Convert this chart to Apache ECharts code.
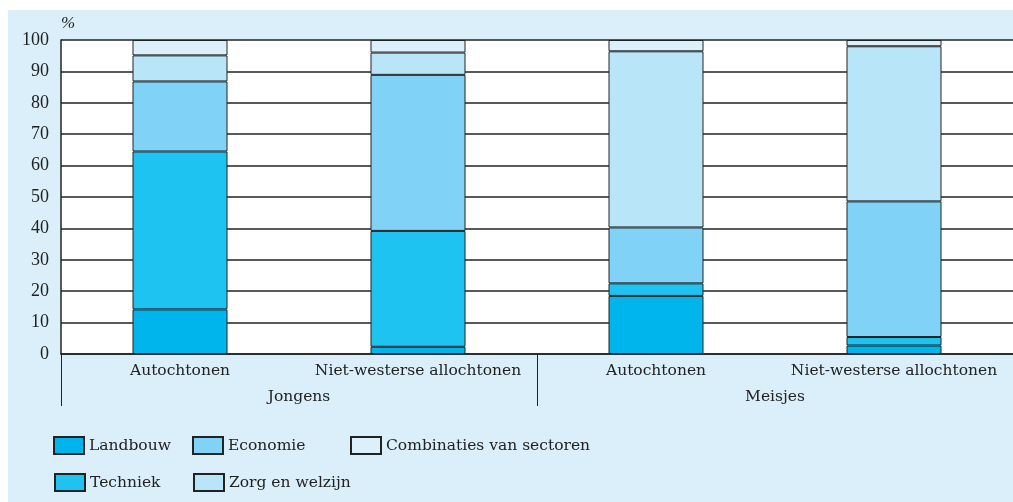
<!DOCTYPE html>
<html>
<head>
<meta charset="utf-8">
<script src="https://cdn.jsdelivr.net/npm/echarts@6/dist/echarts.min.js"></script>
<style>
  html, body { margin: 0; padding: 0; background: #fff; }
  #panel { position: absolute; left: 8px; top: 10px; width: 1005px; height: 492px; background: #daeff9; }
  #main { position: absolute; left: 0; top: 0; width: 1013px; height: 502px; }
</style>
</head>
<body>
<div id="panel"></div>
<div id="main"></div>
<script>
var categories = ['Autochtonen', 'Niet-westerse allochtonen', 'Autochtonen', 'Niet-westerse allochtonen'];
var groups = ['Jongens', 'Meisjes'];
var landbouw = [14.2, 2.3, 18.5, 2.7];
var techniek = [50.3, 36.9, 4.0, 2.7];
var economie = [22.3, 49.7, 17.8, 43.2];
var zorg = [8.3, 7.1, 56.1, 49.4];
var combinaties = [4.9, 4.0, 3.6, 2.0];

var font = 'Liberation Serif';
var textFont = 'DejaVu Serif';
var ink = '#222';

function bar(name, data, color) {
	return {
		name: name,
		type: 'bar',
		stack: 'total',
		barWidth: 95,
		data: data,
		itemStyle: { color: color, borderColor: ink, borderWidth: 1 }
	};
}

// one legend per entry so each box sits where the original puts it
function legendItem(name, left, top) {
	return {
		left: left, top: top, padding: 0,
		itemWidth: 30, itemHeight: 17, itemGap: 0,
		icon: 'rect',
		textStyle: { fontFamily: textFont, fontSize: 15.5, color: ink, padding: [5, 0, 0, 0] },
		data: [name]
	};
}

var myChart = echarts.init(document.getElementById('main'));
var option = {
	animation: false,
	textStyle: { fontFamily: font, color: ink },
	grid: {
		left: 61, right: 0, top: 40, bottom: 148,
		show: true, backgroundColor: '#fff', borderWidth: 0
	},
	legend: [
		legendItem('Landbouw', 53, 436),
		legendItem('Techniek', 54, 473),
		legendItem('Economie', 192, 436),
		legendItem('Zorg en welzijn', 193, 473),
		legendItem('Combinaties van sectoren', 350, 436)
	],
	xAxis: [
		{
			type: 'category',
			data: categories,
			axisLine: { lineStyle: { color: ink, width: 1.5 } },
			axisTick: { show: false },
			axisLabel: { interval: 0, fontFamily: textFont, fontSize: 15.5, color: ink, margin: 9 }
		},
		{
			type: 'category',
			data: groups,
			position: 'bottom',
			axisLine: { show: false },
			axisTick: { show: true, length: 52, interval: 0, lineStyle: { color: ink } },
			axisLabel: { interval: 0, fontFamily: textFont, fontSize: 15.5, color: ink, margin: 35 }
		}
	],
	yAxis: {
		type: 'value',
		min: 0, max: 100, interval: 10,
		name: '%',
		nameGap: 8,
		nameTextStyle: { fontFamily: font, fontSize: 17, color: ink, align: 'left', fontStyle: 'italic' },
		axisLine: { show: true, lineStyle: { color: ink, width: 1.5 } },
		axisTick: { show: false },
		axisLabel: { fontFamily: font, fontSize: 18, color: ink, margin: 12 },
		splitLine: { lineStyle: { color: ink, width: 1.5 } }
	},
	series: [
		bar('Landbouw', landbouw, '#00b5ec'),
		bar('Techniek', techniek, '#1ec3f2'),
		bar('Economie', economie, '#80d3f6'),
		bar('Zorg en welzijn', zorg, '#b9e5f9'),
		bar('Combinaties van sectoren', combinaties, '#dbf0fa')
	]
};
myChart.setOption(option);
</script>
</body>
</html>
